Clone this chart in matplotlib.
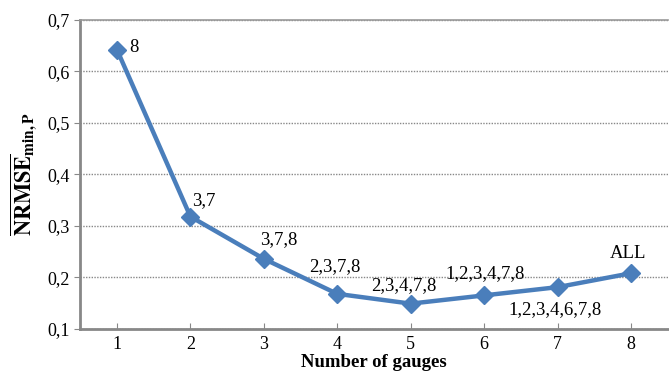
import matplotlib.pyplot as plt
from matplotlib.ticker import FuncFormatter

plt.rcParams['font.family'] = ['Liberation Serif', 'DejaVu Serif']
plt.rcParams['mathtext.fontset'] = 'stix'

gauges = [1, 2, 3, 4, 5, 6, 7, 8]
nrmse = [0.642, 0.318, 0.236, 0.168, 0.149, 0.165, 0.181, 0.208]
labels = ['8', '3,7', '3,7,8', '2,3,7,8', '2,3,4,7,8', '1,2,3,4,7,8',
          '1,2,3,4,6,7,8', 'ALL']

fig = plt.figure(figsize=(6.69, 3.75), dpi=100)
ax = fig.add_axes([0.12, 0.123, 0.878, 0.824])

ax.plot(gauges, nrmse, color='#4A7EBB', lw=3.2, marker='D', ms=9,
        zorder=3)

# label offsets in points, horizontal alignment
offs = [((9, 1.5), 'left'),
        ((1.5, 11.5), 'left'),
        ((11, 14), 'center'),
        ((-1.5, 19.5), 'center'),
        ((-5, 13), 'center'),
        ((1, 16), 'center'),
        ((-2, -16), 'center'),
        ((-2, 14.5), 'center')]
for x, y, t, (o, ha) in zip(gauges, nrmse, labels, offs):
    ax.annotate(t, (x, y), xytext=o, textcoords='offset points',
                ha=ha, va='center', fontsize=13.5)

ax.set_xlim(0.5, 8.5)
ax.set_ylim(0.1, 0.7)
ax.set_xticks(gauges)
ax.set_yticks([0.1, 0.2, 0.3, 0.4, 0.5, 0.6, 0.7])
ax.yaxis.set_major_formatter(FuncFormatter(lambda v, p: ('%.1f' % v).replace('.', ',')))
ax.tick_params(axis='x', direction='in', length=4, color='#888888', labelsize=13, pad=5)
ax.tick_params(axis='y', direction='out', length=4, color='#888888', labelsize=13)

ax.grid(axis='y', color='#888888', linestyle=(0, (1, 1)), lw=1)
for s in ['left', 'bottom']:
    ax.spines[s].set_color('#888888')
    ax.spines[s].set_linewidth(2)
ax.spines['right'].set_visible(False)
ax.spines['top'].set_color('#999999')
ax.spines['top'].set_linewidth(1.2)

ax.set_xlabel('Number of gauges', fontsize=13.5, fontweight='bold', labelpad=1)
ax.set_ylabel(r'$\overline{\mathbf{NRMSE}}_{\mathbf{min,P}}$', fontsize=16, labelpad=6)

fig.savefig('out.png', dpi=100)
